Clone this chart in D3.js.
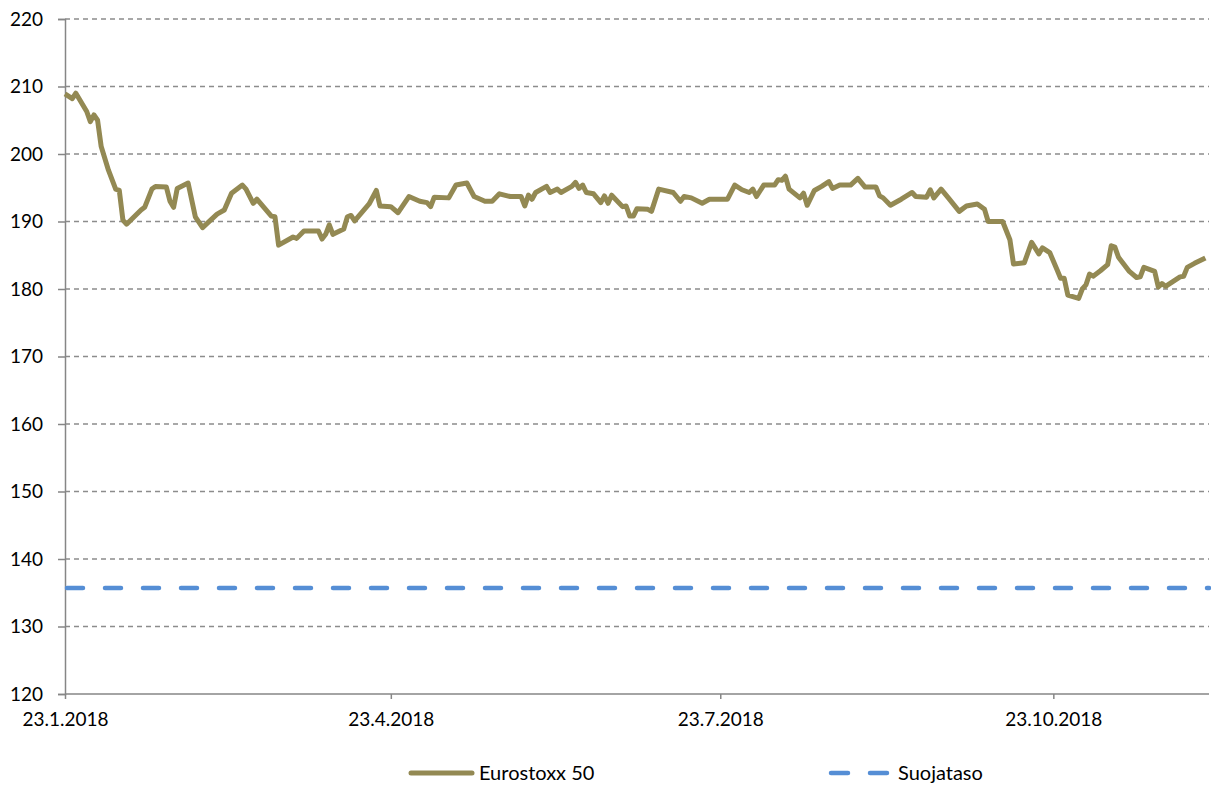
<!DOCTYPE html>
<html>
<head>
<meta charset="utf-8">
<script src="https://cdn.jsdelivr.net/npm/d3@7"></script>
<style>
  body { margin: 0; background: #fff; }
  text { font-family: Lato, "Open Sans", sans-serif; fill: #000; }
</style>
</head>
<body>
<div id="chart"></div>
<script>
// Eurostoxx 50 index level
var dates = [
  "2018-01-23","2018-01-25","2018-01-26","2018-01-29","2018-01-30","2018-01-31","2018-02-01","2018-02-02",
  "2018-02-04","2018-02-06","2018-02-07","2018-02-08","2018-02-09","2018-02-13","2018-02-14","2018-02-16",
  "2018-02-17","2018-02-20","2018-02-21","2018-02-22","2018-02-23","2018-02-26","2018-02-28","2018-03-02",
  "2018-03-06","2018-03-08","2018-03-10","2018-03-13","2018-03-14","2018-03-16","2018-03-17","2018-03-21",
  "2018-03-22","2018-03-23","2018-03-27","2018-03-28","2018-03-30","2018-04-03","2018-04-04","2018-04-05",
  "2018-04-06","2018-04-07","2018-04-10","2018-04-11","2018-04-12","2018-04-13","2018-04-17","2018-04-19",
  "2018-04-20","2018-04-23","2018-04-25","2018-04-28","2018-05-01","2018-05-03","2018-05-04","2018-05-05",
  "2018-05-09","2018-05-11","2018-05-14","2018-05-16","2018-05-19","2018-05-21","2018-05-23","2018-05-26",
  "2018-05-29","2018-05-30","2018-05-31","2018-06-01","2018-06-02","2018-06-05","2018-06-06","2018-06-08",
  "2018-06-09","2018-06-12","2018-06-13","2018-06-14","2018-06-15","2018-06-16","2018-06-18","2018-06-20",
  "2018-06-21","2018-06-22","2018-06-23","2018-06-26","2018-06-27","2018-06-28","2018-06-29","2018-06-30",
  "2018-07-03","2018-07-04","2018-07-06","2018-07-10","2018-07-12","2018-07-13","2018-07-15","2018-07-18",
  "2018-07-20","2018-07-25","2018-07-27","2018-07-29","2018-07-31","2018-08-01","2018-08-02","2018-08-04",
  "2018-08-07","2018-08-08","2018-08-09","2018-08-10","2018-08-11","2018-08-14","2018-08-15","2018-08-16",
  "2018-08-18","2018-08-20","2018-08-22","2018-08-23","2018-08-25","2018-08-28","2018-08-30","2018-09-01",
  "2018-09-04","2018-09-05","2018-09-06","2018-09-08","2018-09-11","2018-09-14","2018-09-15","2018-09-18",
  "2018-09-19","2018-09-20","2018-09-22","2018-09-24","2018-09-27","2018-09-29","2018-10-02","2018-10-04",
  "2018-10-05","2018-10-09","2018-10-11","2018-10-12","2018-10-15","2018-10-17","2018-10-19","2018-10-20",
  "2018-10-22","2018-10-24","2018-10-25","2018-10-26","2018-10-27","2018-10-30","2018-10-31","2018-11-01",
  "2018-11-02","2018-11-03","2018-11-05","2018-11-07","2018-11-08","2018-11-09","2018-11-10","2018-11-13",
  "2018-11-15","2018-11-16","2018-11-17","2018-11-20","2018-11-21","2018-11-22","2018-11-23","2018-11-27",
  "2018-11-28","2018-11-29","2018-12-01","2018-12-04"
];
var values = [
  208.9,208.2,209.0,206.3,204.8,205.8,205.0,201.1,
  197.6,194.8,194.6,190.2,189.6,191.7,192.1,194.8,
  195.2,195.1,193.0,192.1,194.9,195.7,190.7,189.1,
  191.1,191.7,194.2,195.4,194.8,192.7,193.3,190.8,
  190.7,186.5,187.7,187.5,188.6,188.6,187.4,188.1,
  189.5,188.1,188.9,190.7,190.9,190.1,192.6,194.6,
  192.3,192.2,191.3,193.7,193.0,192.8,192.2,193.6,
  193.5,195.4,195.7,193.7,193.0,193.0,194.1,193.7,
  193.7,192.3,193.9,193.3,194.3,195.2,194.3,194.8,
  194.3,195.2,195.8,194.9,195.4,194.3,194.1,192.8,
  193.8,192.7,193.9,192.2,192.3,190.8,190.8,191.9,
  191.8,191.5,194.8,194.3,193.0,193.7,193.5,192.7,
  193.3,193.3,195.4,194.7,194.3,194.8,193.7,195.4,
  195.4,196.2,196.1,196.7,194.8,193.5,194.2,192.4,
  194.6,195.2,195.9,194.9,195.4,195.4,196.4,195.1,
  195.1,193.8,193.5,192.4,193.3,194.3,193.7,193.6,
  194.7,193.5,194.8,193.5,191.5,192.3,192.6,191.8,
  190.0,190.0,187.3,183.7,183.9,186.9,185.2,186.1,
  185.4,182.9,181.6,181.6,179.1,178.6,180.0,180.6,
  182.2,181.9,182.7,183.6,186.4,186.2,184.7,182.6,
  181.7,181.8,183.2,182.6,180.3,180.8,180.4,181.8,
  181.9,183.2,183.8,184.6
];
var suojataso = 135.7;
var yTicks = [120, 130, 140, 150, 160, 170, 180, 190, 200, 210, 220];
var xTicks = ["2018-01-23", "2018-04-23", "2018-07-23", "2018-10-23"];
var seriesNames = ["Eurostoxx 50", "Suojataso"];

var width = 1211;
var height = 787;
var margin = {top: 19, right: 2, bottom: 93, left: 65};

var parse = d3.timeParse("%Y-%m-%d");
var data = dates.map((d, i) => ({date: parse(d), value: values[i]}));

var svg = d3.select("#chart").append("svg")
  .attr("width", width)
  .attr("height", height);

var x = d3.scaleTime()
  .domain([parse("2018-01-23"), parse("2018-12-05")])
  .range([margin.left, width - margin.right]);

var y = d3.scaleLinear()
  .domain([120, 220])
  .range([height - margin.bottom, margin.top]);

// horizontal dashed grid
svg.append("g")
  .selectAll("line")
  .data(yTicks.filter(t => t > 120))
  .enter().append("line")
  .attr("x1", margin.left)
  .attr("x2", width - margin.right)
  .attr("y1", d => y(d))
  .attr("y2", d => y(d))
  .attr("stroke", "#8c8c8c")
  .attr("stroke-width", 1.5)
  .attr("stroke-dasharray", "5,4");

// y axis
var yAxis = svg.append("g")
  .attr("transform", "translate(" + margin.left + ",0)")
  .call(d3.axisLeft(y).tickValues(yTicks).tickSize(7).tickPadding(15).tickFormat(d3.format("d")));
yAxis.selectAll("path, line").attr("stroke", "#868686").attr("stroke-width", 1.5);
yAxis.selectAll("text").style("font-size", "19px").attr("fill", "#000");

// x axis
var xAxis = svg.append("g")
  .attr("transform", "translate(0," + (height - margin.bottom) + ")")
  .call(d3.axisBottom(x).tickValues(xTicks.map(parse)).tickSize(5).tickPadding(14)
    .tickFormat(d3.timeFormat("%-d.%-m.%Y")));
xAxis.select(".domain").attr("d", "M" + margin.left + ",0H" + (width - margin.right));
xAxis.selectAll("path, line").attr("stroke", "#868686").attr("stroke-width", 1.5);
xAxis.selectAll("text").style("font-size", "19px").attr("fill", "#000");

// protection level
svg.append("line")
  .attr("x1", margin.left + 2)
  .attr("x2", width - margin.right)
  .attr("y1", y(suojataso))
  .attr("y2", y(suojataso))
  .attr("stroke", "#558ed5")
  .attr("stroke-width", 4.5)
  .attr("stroke-linecap", "round")
  .attr("stroke-dasharray", "16,22");

// index line
var line = d3.line()
  .x(d => x(d.date))
  .y(d => y(d.value));

svg.append("path")
  .datum(data)
  .attr("fill", "none")
  .attr("stroke", "#938953")
  .attr("stroke-width", 5)
  .attr("stroke-linejoin", "round")
  .attr("d", line);

// legend
var legendY = 773;
var lg = svg.append("g");
lg.append("line")
  .attr("x1", 411).attr("x2", 472)
  .attr("y1", legendY).attr("y2", legendY)
  .attr("stroke", "#938953").attr("stroke-width", 5).attr("stroke-linecap", "round");
lg.append("text")
  .attr("x", 479).attr("y", legendY + 7)
  .style("font-size", "20px")
  .text(seriesNames[0]);
lg.append("line")
  .attr("x1", 831).attr("x2", 888)
  .attr("y1", legendY).attr("y2", legendY)
  .attr("stroke", "#558ed5").attr("stroke-width", 4.5).attr("stroke-linecap", "round")
  .attr("stroke-dasharray", "17,22");
lg.append("text")
  .attr("x", 898).attr("y", legendY + 7)
  .style("font-size", "20px")
  .text(seriesNames[1]);
</script>
</body>
</html>
